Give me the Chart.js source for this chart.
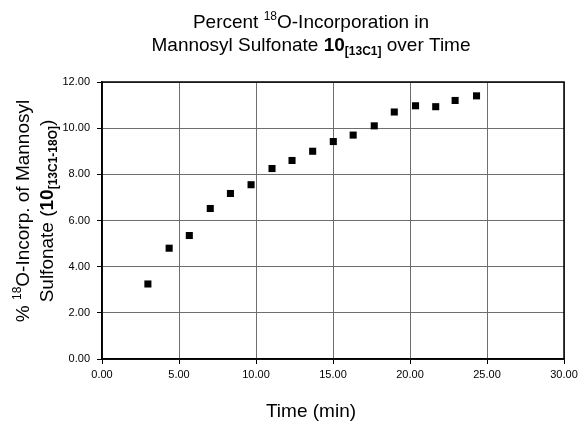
<!DOCTYPE html>
<html>
<head>
<meta charset="utf-8">
<script src="https://cdn.jsdelivr.net/npm/chart.js@4"></script>
<style>
body{margin:0;background:#fff;}
#wrap{width:579px;height:422px;position:relative;}
</style>
</head>
<body>
<div id="wrap"><canvas id="c" width="579" height="422"></canvas></div>
<script>
// data
const timeMin=[2.98,4.36,5.67,7.03,8.34,9.68,11.04,12.34,13.68,15.02,16.31,17.68,18.98,20.36,21.67,22.93,24.32];
const pctIncorp=[3.25,4.80,5.35,6.52,7.17,7.55,8.25,8.60,9.00,9.42,9.70,10.10,10.70,10.97,10.93,11.20,11.40];

const FONT='"Liberation Sans", Arial, sans-serif';

let pts=[];
for(let i=0;i<timeMin.length;i++) pts.push({x:timeMin[i],y:pctIncorp[i]});

// draw a line of text made of pieces with different fonts / offsets
function drawRich(ctx,segs,cx,y){
  let w=0;
  segs.forEach(s=>{ctx.font=s.font;w+=ctx.measureText(s.t).width;});
  let x=cx-w/2;
  segs.forEach(s=>{
    ctx.font=s.font;
    ctx.fillText(s.t,x,y+(s.dy||0));
    x+=ctx.measureText(s.t).width;
  });
}

const big='19px '+FONT, bigB='bold 19px '+FONT, sm='12px '+FONT, smB='bold 12px '+FONT;

const textPlugin={
  id:'texts',
  afterDraw(chart){
    const ctx=chart.ctx;
    ctx.save();
    ctx.fillStyle='#000';
    ctx.textBaseline='alphabetic';
    ctx.textAlign='left';
    // title
    drawRich(ctx,[{t:'Percent ',font:big},{t:'18',font:sm,dy:-8},{t:'O-Incorporation in',font:big}],311,28);
    drawRich(ctx,[{t:'Mannosyl Sulfonate ',font:big},{t:'10',font:bigB},{t:'[13C1]',font:smB,dy:4},{t:' over Time',font:big}],311,51);
    // x title
    drawRich(ctx,[{t:'Time (min)',font:big}],311,417);
    // y title
    ctx.translate(0,211);
    ctx.rotate(-Math.PI/2);
    drawRich(ctx,[{t:'% ',font:big},{t:'18',font:sm,dy:-8},{t:'O-Incorp. of Mannosyl',font:big}],0,29);
    drawRich(ctx,[{t:'Sulfonate (',font:big},{t:'10',font:bigB},{t:'[13C1-18O]',font:smB,dy:4},{t:')',font:big}],0,53);
    ctx.restore();
    // frame
    const a=chart.chartArea;
    ctx.save();
    ctx.strokeStyle='#000';
    ctx.lineWidth=1.5;
    ctx.strokeRect(a.left,a.top,a.right-a.left,a.bottom-a.top);
    ctx.restore();
  }
};

new Chart(document.getElementById('c'),{
  type:'scatter',
  data:{datasets:[{
    data:pts,
    pointStyle:'rect',
    pointRadius:5,
    pointBorderWidth:0,
    backgroundColor:'#000',
    borderColor:'#000'
  }]},
  options:{
    responsive:false,
    animation:false,
    layout:{padding:{top:82,right:15,left:0,bottom:0}},
    plugins:{legend:{display:false},tooltip:{enabled:false}},
    scales:{
      x:{
        type:'linear',min:0,max:30,
        ticks:{stepSize:5,color:'#000',font:{size:11,family:FONT},padding:4,maxRotation:0,
          callback:v=>v.toFixed(2)},
        grid:{color:'#6e6e6e',tickColor:'#000',tickLength:5,lineWidth:1},
        border:{color:'#000',width:1.5},
        afterFit(s){s.height=63;s.paddingRight=0;s.paddingLeft=0;}
      },
      y:{
        min:0,max:12,
        ticks:{stepSize:2,color:'#000',font:{size:11,family:FONT},padding:7,
          callback:v=>v.toFixed(2)},
        grid:{color:'#6e6e6e',tickColor:'#000',tickLength:5,lineWidth:1},
        border:{color:'#000',width:1.5},
        afterFit(s){s.width=102;s.paddingTop=0;s.paddingBottom=0;}
      }
    }
  },
  plugins:[textPlugin]
});
</script>
</body>
</html>
